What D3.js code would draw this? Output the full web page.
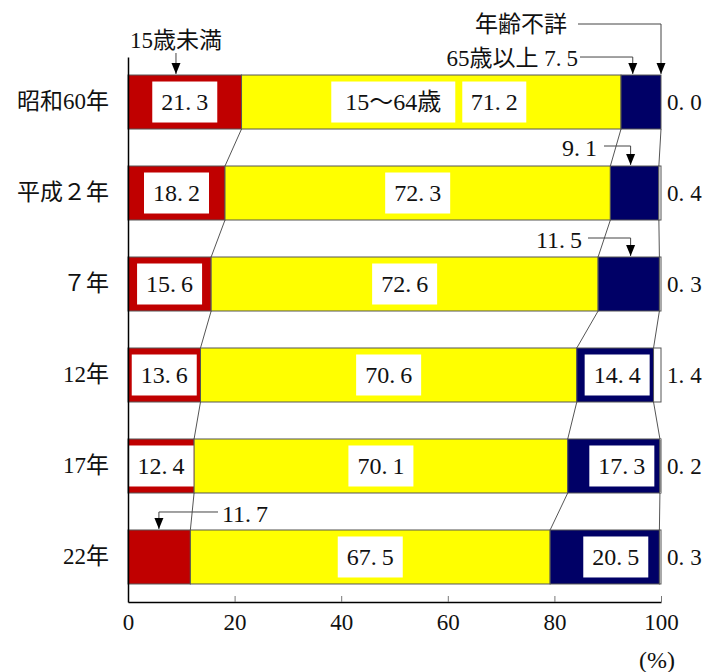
<!DOCTYPE html>
<html><head><meta charset="utf-8">
<script src="https://cdn.jsdelivr.net/npm/d3@7"></script>
<style>body{margin:0;background:#fff}</style>
</head><body><svg id="c" width="707" height="672"></svg>
<script>
// ---- data ----
const categories = ["昭和60年", "平成２年", "７年", "12年", "17年", "22年"];
const under15   = [21.3, 18.2, 15.6, 13.6, 12.4, 11.7];
const age15to64 = [71.2, 72.3, 72.6, 70.6, 70.1, 67.5];
const over65    = [7.5, 9.1, 11.5, 14.4, 17.3, 20.5];
const unknown   = [0.0, 0.4, 0.3, 1.4, 0.2, 0.3];
const xTicks = [0, 20, 40, 60, 80, 100];
const seriesKeys = ["under15", "age15to64", "over65", "unknown"];
const seriesColors = ["#C00000", "#FFFF00", "#000066", "#FFFFFF"];

// ---- layout ----
const FONT = "'Liberation Serif','Noto Sans CJK JP',serif";
const svg = d3.select("#c");
const x = d3.scaleLinear().domain([0, 100]).range([128, 661]);
const y = d3.scaleBand().domain(categories).range([57, 602]).paddingInner(0.4066).paddingOuter(0.198);
const bw = y.bandwidth();

const table = categories.map((c, i) => ({cat: c, under15: under15[i], age15to64: age15to64[i], over65: over65[i], unknown: unknown[i]}));
const stacked = d3.stack().keys(seriesKeys)(table);

// number text with the wide Mincho-like gap after the decimal point
function numText(g, str, gap) {
  const parts = str.split(".");
  g.append("tspan").text(parts[0]);
  if (parts.length > 1) {
    g.append("tspan").text(".");
    g.append("tspan").attr("dx", gap).text(parts[1]);
  }
  return g;
}

// connectors between bars
for (let k = 0; k < 3; k++) {
  const s = stacked[k];
  for (let i = 0; i < categories.length - 1; i++) {
    svg.append("line")
      .attr("x1", x(s[i][1])).attr("y1", y(categories[i]) + bw)
      .attr("x2", x(s[i + 1][1])).attr("y2", y(categories[i + 1]))
      .attr("stroke", "#555").attr("stroke-width", 1);
  }
}

// bars
stacked.forEach((s, k) => {
  svg.append("g").selectAll("rect").data(s).join("rect")
    .attr("x", d => x(d[0]))
    .attr("y", d => y(d.data.cat))
    .attr("width", d => x(d[1]) - x(d[0]))
    .attr("height", bw)
    .attr("fill", seriesColors[k])
    .attr("stroke", "#555").attr("stroke-width", 1);
});

// boxed value labels
const boxW = 65, boxH = 41;
const boxedRows = [[0,1,2,3,4], [0,1,2,3,4,5], [3,4,5]];
const boxDx = [[0,0,0,0,0,0], [0,0,0,0,0,0], [0,0,0,2,8,11]];
function box(cx, cy, w, txt) {
  svg.append("rect").attr("x", cx - w / 2).attr("y", cy - boxH / 2)
    .attr("width", w).attr("height", boxH).attr("fill", "#fff");
  const t = svg.append("text").attr("x", cx).attr("y", cy + 8)
    .attr("text-anchor", "middle").attr("font-family", FONT).attr("font-size", 24).attr("fill", "#111");
  if (/^[0-9.]+$/.test(txt)) numText(t, txt, 5); else t.text(txt);
}
for (let k = 0; k < 3; k++) {
  boxedRows[k].forEach(i => {
    const d = stacked[k][i];
    const cx = (x(d[0]) + x(d[1])) / 2 + boxDx[k][i];
    const cy = y(categories[i]) + bw / 2;
    if (k === 1 && i === 0) {
      box(cx - 38, cy, 124, "15〜64歳");
      box(cx + 63, cy, 64, d.data.age15to64.toFixed(1));
    } else {
      box(cx, cy, boxW, d.data[seriesKeys[k]].toFixed(1));
    }
  });
}

// right-side values (unknown)
categories.forEach((c, i) => {
  const t = svg.append("text").attr("x", x(100) + 6).attr("y", y(c) + bw / 2 + 8)
    .attr("font-family", FONT).attr("font-size", 23).attr("fill", "#111");
  numText(t, unknown[i].toFixed(1), 6);
});

// axes
const xAxis = svg.append("g").attr("transform", "translate(0,602)")
  .call(d3.axisBottom(x).tickValues(xTicks).tickSizeInner(-6).tickSizeOuter(0).tickPadding(4));
xAxis.select(".domain").attr("stroke", "#000").attr("stroke-width", 1.5);
xAxis.selectAll(".tick line").attr("stroke", "#777");
xAxis.selectAll(".tick text").attr("font-family", FONT).attr("font-size", 23).attr("fill", "#111").attr("dy", "1.05em");

const yAxis = svg.append("g").attr("transform", "translate(128,0)")
  .call(d3.axisLeft(y).tickSize(0).tickPadding(19));
yAxis.select(".domain").attr("stroke", "#000").attr("stroke-width", 1.5);
yAxis.selectAll(".tick text").attr("font-family", FONT).attr("font-size", 23).attr("fill", "#111");

svg.append("text").attr("x", x(100) - 4).attr("y", 668).attr("text-anchor", "middle")
  .attr("font-family", FONT).attr("font-size", 24).attr("fill", "#111").text("(%)");

// annotations with arrows
function arrow(pts) {
  const line = d3.line();
  svg.append("path").attr("d", line(pts)).attr("fill", "none").attr("stroke", "#444").attr("stroke-width", 1);
  const [tx, ty] = pts[pts.length - 1];
  svg.append("path").attr("d", `M${tx},${ty}L${tx - 4.5},${ty - 11}L${tx + 4.5},${ty - 11}Z`).attr("fill", "#000");
}
function label(xp, yp, anchor, txt, size) {
  const t = svg.append("text").attr("x", xp).attr("y", yp).attr("text-anchor", anchor)
    .attr("font-family", FONT).attr("font-size", size).attr("fill", "#111");
  const m = txt.match(/^(.*?)([0-9]+\.[0-9]+)$/);
  if (m) { if (m[1]) t.append("tspan").text(m[1]); numText(t, m[2], 5); } else t.text(txt);
}
const top0 = y(categories[0]);
label(x(0) + 2, 48, "start", "15歳未満", 23);
arrow([[x(9), 53], [x(9), top0 - 1]]);

label(567, 32, "end", "年齢不詳", 23);
arrow([[578, 24], [x(100), 24], [x(100), top0 - 1]]);

label(578, top0 - 9, "end", "65歳以上 " + over65[0].toFixed(1), 23);
arrow([[580, top0 - 18], [x(94.7), top0 - 18], [x(94.7), top0 - 1]]);

const top1 = y(categories[1]);
label(597, top1 - 10, "end", over65[1].toFixed(1), 24);
arrow([[604, top1 - 20], [x(94.3), top1 - 20], [x(94.3), top1 - 1]]);

const top2 = y(categories[2]);
label(582, top2 - 9, "end", over65[2].toFixed(1), 24);
arrow([[588, top2 - 19], [x(94.3), top2 - 19], [x(94.3), top2 - 1]]);

const top5 = y(categories[5]);
label(222, top5 - 8, "start", under15[5].toFixed(1), 24);
arrow([[218, top5 - 18], [x(5.8), top5 - 18], [x(5.8), top5 - 1]]);
</script>
</body></html>
